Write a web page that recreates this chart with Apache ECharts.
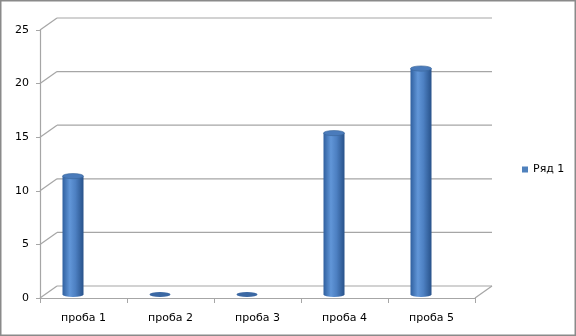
<!DOCTYPE html>
<html><head><meta charset="utf-8">
<script src="https://cdn.jsdelivr.net/npm/echarts@6/dist/echarts.min.js"></script>
<style>html,body{margin:0;padding:0;background:#fff}#c{width:576px;height:336px}</style>
</head><body><div id="c"></div>
<script>
// ---- data ----
const categories = ['проба 1', 'проба 2', 'проба 3', 'проба 4', 'проба 5'];
const seriesName = 'Ряд 1';
const values = [11, 0, 0, 15, 21];
const yTicks = [0, 5, 10, 15, 20, 25];
const yMin = 0, yMax = 25, yStep = 5;

// ---- styles ----
const FONT = 'DejaVu Sans';
const LINE = '#a6a6a6';
const DX = 17, DY = 12;     // depth offset of the 3D wall
const RX = 10.5, RY = 2.6;  // cylinder radii

const chart = echarts.init(document.getElementById('c'), null, { renderer: 'canvas' });

const bodyGrad = new echarts.graphic.LinearGradient(0, 0, 1, 0, [
  { offset: 0, color: '#30609f' },
  { offset: 0.35, color: '#6196d8' },
  { offset: 0.62, color: '#4d80c2' },
  { offset: 1, color: '#28528a' }
]);

function frameItem(params, api) {
  const cs = params.coordSys;
  const v = api.value(1);
  const y = api.coord([0, v])[1];
  const ls = { stroke: LINE, lineWidth: 1.2 };
  const children = [
    { type: 'line', shape: { x1: cs.x, y1: y, x2: cs.x + DX, y2: y - DY }, style: ls },
    { type: 'line', shape: { x1: cs.x + DX, y1: y - DY, x2: cs.x + cs.width + DX, y2: y - DY }, style: ls }
  ];
  if (v === yMin) {
    children.push({ type: 'line', shape: { x1: cs.x + cs.width, y1: y, x2: cs.x + cs.width + DX, y2: y - DY }, style: ls });
  }
  return { type: 'group', children: children };
}

function cylItem(params, api) {
  const i = api.value(0), v = api.value(1);
  const base = api.coord([i, 0]);
  const top = api.coord([i, v]);
  const cx = base[0];
  const children = [];
  if (v > 0) {
    children.push({ type: 'rect', shape: { x: cx - RX, y: top[1], width: 2 * RX, height: base[1] - top[1] }, style: { fill: bodyGrad } });
    children.push({ type: 'circle', shape: { cx: 0, cy: 0, r: RX }, x: cx, y: base[1], scaleY: RY / RX, style: { fill: bodyGrad } });
    children.push({ type: 'circle', shape: { cx: 0, cy: 0, r: RX }, x: cx, y: top[1], scaleY: RY / RX,
      style: { fill: '#4a7bbb', stroke: '#3a6599', lineWidth: 1, strokeNoScale: true } });
  } else {
    children.push({ type: 'circle', shape: { cx: 0, cy: 0, r: RX }, x: cx, y: base[1], scaleY: RY / RX,
      style: { fill: '#3b68a3' } });
  }
  return { type: 'group', children: children };
}

chart.setOption({
  animation: false,
  backgroundColor: '#ffffff',
  textStyle: { fontFamily: FONT },
  graphic: [{
    type: 'rect', shape: { x: 0.75, y: 0.75, width: 574.5, height: 334.5 },
    style: { fill: 'none', stroke: '#8a8a8a', lineWidth: 1.5 }, silent: true, z: 100
  }],
  legend: {
    data: [{ name: seriesName, icon: 'rect' }],
    left: 517, top: 159, itemWidth: 6, itemHeight: 6, itemGap: 5,
    textStyle: { fontFamily: FONT, fontSize: 11, color: '#000' }
  },
  grid: [
    { left: 40, right: 101, top: 30, bottom: 38 },
    { left: 29.5, right: 111.5, top: 25.5, bottom: 41.5 }
  ],
  xAxis: [
    {
      gridIndex: 0, type: 'category', data: categories, boundaryGap: true,
      axisLine: { show: true, lineStyle: { color: LINE, width: 1.2 } },
      axisTick: { show: true, length: 5, lineStyle: { color: LINE } },
      axisLabel: { margin: 15, fontFamily: FONT, fontSize: 11, color: '#000' },
      splitLine: { show: false }
    },
    { gridIndex: 1, type: 'category', data: categories, show: false }
  ],
  yAxis: [
    {
      gridIndex: 0, type: 'value', min: yMin, max: yMax, interval: yStep,
      axisLine: { show: true, lineStyle: { color: LINE, width: 1.2 } },
      axisTick: { show: true, length: 4, lineStyle: { color: LINE } },
      axisLabel: { margin: 11, fontFamily: FONT, fontSize: 11, color: '#000' },
      splitLine: { show: false }
    },
    { gridIndex: 1, type: 'value', min: yMin, max: yMax, interval: yStep, show: false, splitLine: { show: false } }
  ],
  series: [
    {
      type: 'custom', name: 'frame', xAxisIndex: 0, yAxisIndex: 0, silent: true, z: 1,
      data: yTicks.map(t => [0, t]), encode: { x: 0, y: 1 }, renderItem: frameItem, clip: false
    },
    {
      type: 'custom', name: seriesName, xAxisIndex: 1, yAxisIndex: 1, z: 5,
      itemStyle: { color: '#4f81bd' },
      data: values.map((v, i) => [i, v]), encode: { x: 0, y: 1 }, renderItem: cylItem, clip: false
    }
  ]
});
</script>
</body></html>
